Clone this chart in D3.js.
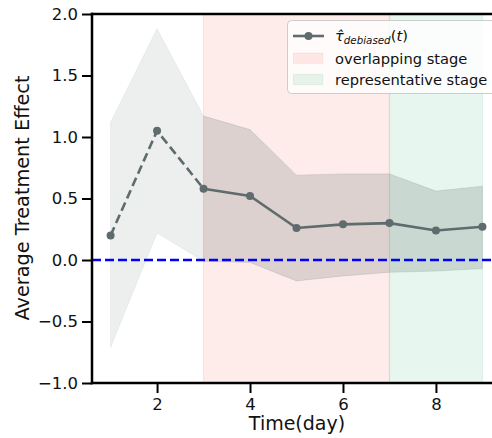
<!DOCTYPE html>
<html>
<head>
<meta charset="utf-8">
<script src="https://cdn.jsdelivr.net/npm/d3@7"></script>
<style>
  body { margin: 0; background: #fff; }
  text { font-family: "DejaVu Sans", sans-serif; }
</style>
</head>
<body>
<div id="chart"></div>
<script>
// values
var days = [1, 2, 3, 4, 5, 6, 7, 8, 9];
var tauDebiased = [0.20, 1.05, 0.58, 0.52, 0.26, 0.29, 0.30, 0.24, 0.27];
var ciUpper = [1.12, 1.88, 1.17, 1.06, 0.69, 0.70, 0.70, 0.56, 0.60];
var ciLower = [-0.71, 0.22, -0.01, -0.02, -0.17, -0.13, -0.10, -0.09, -0.07];
var stageNames = ["overlapping stage", "representative stage"];
var stageStart = [3, 7];
var stageEnd = [7, 9];
var stageColors = ["#fa8072", "#3cb371"];
var stageAlpha = [0.15, 0.12];
var xTicks = [2, 4, 6, 8];
var yTicks = [-1.0, -0.5, 0.0, 0.5, 1.0, 1.5, 2.0];

var W = 492, H = 438;
var lineColor = "#5f6b6d";

var svg = d3.select("#chart").append("svg")
  .attr("width", W).attr("height", H);

// scales (axes run a bit past the right edge of the picture)
var x = d3.scaleLinear().domain([0.6, 9.4]).range([92, 501]);
var y = d3.scaleLinear().domain([-1, 2]).range([383, 14]);

var pts = days.map(function (d, i) {
  return { t: d, v: tauDebiased[i], lo: ciLower[i], hi: ciUpper[i] };
});

// stage shading
stageNames.forEach(function (name, i) {
  svg.append("rect")
    .attr("x", x(stageStart[i]))
    .attr("y", y(2))
    .attr("width", x(stageEnd[i]) - x(stageStart[i]))
    .attr("height", y(-1) - y(2))
    .attr("fill", stageColors[i]).attr("fill-opacity", stageAlpha[i])
    .attr("stroke", stageColors[i]).attr("stroke-opacity", stageAlpha[i])
    .attr("stroke-width", 1.2);
});

// confidence band
var area = d3.area()
  .x(function (d) { return x(d.t); })
  .y0(function (d) { return y(d.lo); })
  .y1(function (d) { return y(d.hi); });

svg.append("path").datum(pts)
  .attr("d", area)
  .attr("fill", lineColor).attr("fill-opacity", 0.11)
  .attr("stroke", lineColor).attr("stroke-opacity", 0.08).attr("stroke-width", 1);

svg.append("path").datum(pts.filter(function (d) { return d.t >= 3; }))
  .attr("d", area)
  .attr("fill", lineColor).attr("fill-opacity", 0.11)
  .attr("stroke", lineColor).attr("stroke-opacity", 0.08).attr("stroke-width", 1);

// estimate line
var line = d3.line()
  .x(function (d) { return x(d.t); })
  .y(function (d) { return y(d.v); });

svg.append("path").datum(pts.filter(function (d) { return d.t <= 3; }))
  .attr("d", line)
  .attr("fill", "none").attr("stroke", lineColor)
  .attr("stroke-width", 2.6).attr("stroke-dasharray", "9,4.5");

svg.append("path").datum(pts.filter(function (d) { return d.t >= 3; }))
  .attr("d", line)
  .attr("fill", "none").attr("stroke", lineColor)
  .attr("stroke-width", 2.6);

svg.selectAll("circle.pt").data(pts).enter()
  .append("circle").attr("class", "pt")
  .attr("cx", function (d) { return x(d.t); })
  .attr("cy", function (d) { return y(d.v); })
  .attr("r", 4)
  .attr("fill", lineColor);

// zero line
svg.append("line")
  .attr("x1", x(0.6)).attr("x2", x(9.4))
  .attr("y1", y(0)).attr("y2", y(0))
  .attr("stroke", "#0000ff").attr("stroke-width", 2.5)
  .attr("stroke-dasharray", "9,4");

// axes
var yAxis = svg.append("g")
  .attr("transform", "translate(" + x(0.6) + ",0)")
  .call(d3.axisLeft(y).tickValues(yTicks).tickFormat(d3.format(".1f"))
    .tickSize(10).tickPadding(4));
var xAxis = svg.append("g")
  .attr("transform", "translate(0," + y(-1) + ")")
  .call(d3.axisBottom(x).tickValues(xTicks).tickFormat(d3.format("d"))
    .tickSize(10).tickPadding(5));

[xAxis, yAxis].forEach(function (g) {
  g.select(".domain").remove();
  g.selectAll(".tick line").attr("stroke", "#000").attr("stroke-width", 2);
  g.selectAll(".tick text").attr("fill", "#111")
    .style("font-size", "16.5px").style("font-family", "DejaVu Sans");
});

// spines
svg.append("line").attr("x1", x(0.6)).attr("x2", x(0.6))
  .attr("y1", y(2)).attr("y2", y(-1))
  .attr("stroke", "#000").attr("stroke-width", 2.5).attr("stroke-linecap", "square");
svg.append("line").attr("x1", x(0.6)).attr("x2", x(9.4))
  .attr("y1", y(-1)).attr("y2", y(-1))
  .attr("stroke", "#000").attr("stroke-width", 2.5).attr("stroke-linecap", "square");
svg.append("line").attr("x1", x(0.6)).attr("x2", x(9.4))
  .attr("y1", y(2)).attr("y2", y(2))
  .attr("stroke", "#000").attr("stroke-width", 2.5).attr("stroke-linecap", "square");

// axis labels
svg.append("text")
  .attr("transform", "translate(29,198) rotate(-90)")
  .attr("text-anchor", "middle")
  .style("font-size", "19.3px").attr("fill", "#111")
  .text("Average Treatment Effect");
svg.append("text")
  .attr("x", 297).attr("y", 430)
  .attr("text-anchor", "middle")
  .style("font-size", "19px").attr("fill", "#111")
  .text("Time(day)");

// legend
var lg = svg.append("g");
lg.append("rect")
  .attr("x", 287.5).attr("y", 20.5).attr("width", 212).attr("height", 73)
  .attr("rx", 4)
  .attr("fill", "#fff").attr("fill-opacity", 0.8)
  .attr("stroke", "#cccccc").attr("stroke-width", 1);

lg.append("line")
  .attr("x1", 293).attr("x2", 324).attr("y1", 36).attr("y2", 36)
  .attr("stroke", lineColor).attr("stroke-width", 2.6);
lg.append("circle").attr("cx", 308.5).attr("cy", 36).attr("r", 4).attr("fill", lineColor);

var mt = lg.append("text").attr("x", 335).attr("y", 41)
  .style("font-size", "14.67px").attr("fill", "#111");
mt.append("tspan").style("font-style", "italic").text("\u03c4\u0302");
mt.append("tspan").style("font-style", "italic").style("font-size", "10.3px")
  .attr("dy", 3).text("debiased");
mt.append("tspan").attr("dy", -3).text("(");
mt.append("tspan").style("font-style", "italic").text("t");
mt.append("tspan").text(")");

stageNames.forEach(function (name, i) {
  var yy = 53 + i * 21.3;
  lg.append("rect")
    .attr("x", 293.5).attr("y", yy).attr("width", 29.3).attr("height", 10.3)
    .attr("fill", stageColors[i]).attr("fill-opacity", stageAlpha[i])
    .attr("stroke", stageColors[i]).attr("stroke-opacity", stageAlpha[i]);
  lg.append("text")
    .attr("x", 335).attr("y", yy + 10.5)
    .style("font-size", "14.67px").attr("fill", "#111")
    .text(name);
});
</script>
</body>
</html>
